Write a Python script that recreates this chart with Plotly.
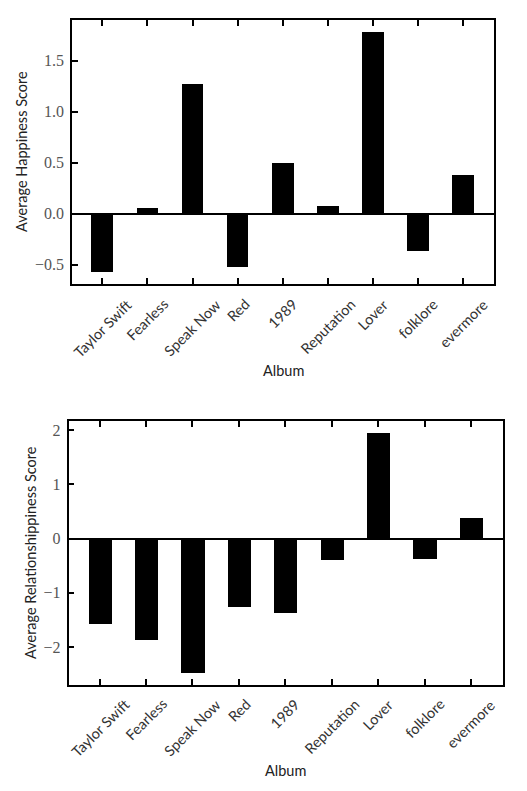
import plotly.graph_objects as go

albums = ["Taylor Swift", "Fearless", "Speak Now", "Red", "1989",
          "Reputation", "Lover", "folklore", "evermore"]
happiness = [-0.57, 0.05, 1.27, -0.52, 0.50, 0.07, 1.78, -0.37, 0.38]
relationship = [-1.57, -1.87, -2.47, -1.27, -1.37, -0.39, 1.94, -0.37, 0.38]

W, H = 527, 791
top_x = [72 / W, 494 / W]
top_y = [1 - 284 / H, 1 - 20 / H]
bot_x = [68.5 / W, 502.5 / W]
bot_y = [1 - 685 / H, 1 - 421 / H]

fig = go.Figure()
fig.add_trace(go.Bar(x=albums, y=happiness, width=0.48, marker=dict(color="black", line=dict(width=0)),
                     xaxis="x", yaxis="y", showlegend=False))
fig.add_trace(go.Bar(x=albums, y=relationship, width=0.5, marker=dict(color="black", line=dict(width=0)),
                     xaxis="x2", yaxis="y2", showlegend=False))

serif = "Liberation Serif, Times New Roman, serif"
sans = "Lato"

xcommon = dict(showline=True, linecolor="black", linewidth=1.5, mirror="ticks",
               ticks="inside", ticklen=6, tickwidth=1.5, tickcolor="black",
               showticklabels=False, showgrid=False, zeroline=False,
               range=[-0.67, 8.68], type="category", fixedrange=True)
ycommon = dict(showline=True, linecolor="black", linewidth=1.5, mirror=True,
               ticks="inside", ticklen=6, tickwidth=1.5, tickcolor="black",
               showgrid=False, zeroline=True, zerolinecolor="black", zerolinewidth=1.5,
               tickfont=dict(family=serif, size=16, color="#555"),
               ticklabelstandoff=3)

fig.update_layout(
    width=W, height=H, margin=dict(l=0, r=0, t=0, b=0),
    paper_bgcolor="white", plot_bgcolor="white", bargap=0,
    xaxis=dict(domain=top_x, anchor="y", **xcommon),
    yaxis=dict(domain=top_y, anchor="x", range=[-0.69, 1.897],
               tickvals=[-0.5, 0.0, 0.5, 1.0, 1.5], tickformat=".1f", **ycommon),
    xaxis2=dict(domain=bot_x, anchor="y2", **xcommon),
    yaxis2=dict(domain=bot_y, anchor="x2", range=[-2.70, 2.17],
                tickvals=[-2, -1, 0, 1, 2], **ycommon),
)

ann = []
lab_font = dict(family=sans, size=14.5, color="#333")
for i, a in enumerate(albums):
    ann.append(dict(x=i, xref="x", y=top_y[0] - 9 / H, yref="paper", text=a,
                    textangle=-45, xanchor="center", yanchor="top", showarrow=False,
                    font=lab_font))
    ann.append(dict(x=i, xref="x2", y=bot_y[0] - 8 / H, yref="paper", text=a,
                    textangle=-45, xanchor="center", yanchor="top", showarrow=False,
                    font=lab_font))

title_font = dict(family=sans, size=14.5, color="#222")
ann.append(dict(x=(top_x[0] + top_x[1]) / 2, xref="paper", y=1 - 370 / H, yref="paper",
                text="Album", showarrow=False, font=title_font, xanchor="center", yanchor="middle"))
ann.append(dict(x=(bot_x[0] + bot_x[1]) / 2, xref="paper", y=1 - 770 / H, yref="paper",
                text="Album", showarrow=False, font=title_font, xanchor="center", yanchor="middle"))
ann.append(dict(x=22 / W, xref="paper", y=(top_y[0] + top_y[1]) / 2, yref="paper",
                text="Average Happiness Score", textangle=-90, showarrow=False,
                font=title_font, xanchor="center", yanchor="middle"))
ann.append(dict(x=30 / W, xref="paper", y=(bot_y[0] + bot_y[1]) / 2, yref="paper",
                text="Average Relationshippiness Score", textangle=-90, showarrow=False,
                font=title_font, xanchor="center", yanchor="middle"))

fig.update_layout(annotations=ann)
fig.write_html("out.html")
